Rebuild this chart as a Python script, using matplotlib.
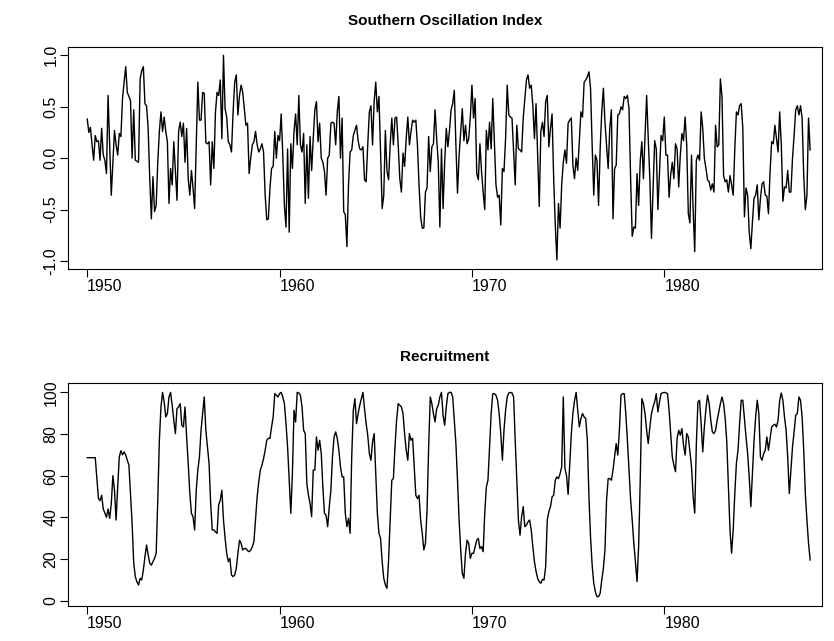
import numpy as np
import matplotlib
matplotlib.use("Agg")
import matplotlib.pyplot as plt

plt.rcParams['font.family'] = ['Liberation Sans', 'DejaVu Sans']

soi = [
 0.38, 0.25, 0.30, 0.13, -0.02, 0.22, 0.16, 0.17, -0.02, 0.29, 0.03, -0.02,
 -0.15, 0.61, 0.13, -0.36, -0.04, 0.27, 0.13, 0.03, 0.24, 0.21, 0.58, 0.74,
 0.89, 0.64, 0.60, 0.56, 0.00, 0.47, -0.02, -0.03, -0.04, 0.77, 0.85, 0.89,
 0.53, 0.51, 0.29, -0.20, -0.59, -0.18, -0.52, -0.46, -0.04, 0.26, 0.45, 0.26,
 0.40, 0.26, 0.16, -0.44, -0.10, -0.26, 0.16, -0.13, -0.41, 0.26, 0.35, 0.21,
 0.34, -0.04, 0.29, -0.20, -0.36, -0.12, -0.29, -0.49, 0.13, 0.74, 0.37, 0.37,
 0.64, 0.63, 0.15, 0.14, 0.16, -0.26, 0.16, -0.10, 0.45, 0.64, 0.61, 0.76,
 0.19, 1.00, 0.48, 0.40, 0.16, 0.13, 0.06, 0.45, 0.74, 0.81, 0.42, 0.61,
 0.71, 0.64, 0.48, 0.32, 0.34, -0.15, 0.00, 0.13, 0.16, 0.26, 0.13, 0.06,
 0.09, 0.14, 0.06, -0.36, -0.60, -0.59, -0.29, -0.10, -0.08, 0.26, 0.00, 0.22,
 0.17, 0.43, 0.03, -0.46, -0.67, 0.09, -0.72, 0.14, -0.10, 0.26, 0.43, 0.13,
 0.61, 0.13, 0.06, 0.24, -0.44, 0.13, -0.39, 0.21, -0.12, 0.19, 0.47, 0.55,
 0.16, 0.34, 0.00, -0.04, -0.13, -0.36, 0.00, 0.03, 0.34, 0.35, 0.34, 0.13,
 0.45, 0.60, 0.00, 0.39, -0.52, -0.55, -0.86, -0.26, 0.06, 0.08, 0.22, 0.27,
 0.32, 0.17, 0.09, 0.08, 0.11, -0.21, -0.23, 0.13, 0.45, 0.51, 0.13, 0.55,
 0.74, 0.45, 0.60, 0.06, -0.49, -0.36, 0.27, -0.13, -0.21, 0.13, 0.39, 0.13,
 0.39, 0.40, 0.13, -0.20, -0.33, 0.05, -0.08, 0.19, 0.40, 0.13, 0.26, 0.37,
 0.35, 0.37, 0.13, -0.26, -0.57, -0.68, -0.68, -0.33, -0.29, 0.21, -0.13, 0.11,
 0.14, 0.47, 0.19, -0.04, -0.67, 0.09, -0.49, -0.04, 0.29, 0.11, 0.27, 0.47,
 0.53, 0.66, 0.13, -0.34, 0.03, 0.26, 0.48, 0.17, 0.32, 0.14, 0.19, 0.40,
 0.71, 0.39, 0.58, -0.15, -0.21, 0.14, -0.13, -0.33, -0.50, 0.27, 0.08, 0.35,
 0.09, 0.58, 0.16, -0.26, -0.38, -0.36, -0.65, -0.10, -0.13, 0.19, 0.71, 0.42,
 0.40, 0.39, 0.06, -0.26, 0.32, 0.09, 0.08, 0.06, 0.39, 0.58, 0.76, 0.81,
 0.68, 0.71, 0.51, 0.19, 0.53, 0.03, -0.47, 0.26, 0.35, 0.21, 0.55, 0.61,
 0.11, 0.29, 0.43, -0.20, -0.65, -0.99, -0.44, -0.68, -0.26, -0.04, 0.08, -0.05,
 0.34, 0.37, 0.39, -0.07, -0.20, 0.00, -0.12, 0.16, 0.45, 0.40, 0.74, 0.76,
 0.79, 0.84, 0.68, 0.13, -0.36, 0.03, -0.02, -0.46, 0.09, 0.45, 0.68, 0.35,
 0.13, -0.10, 0.29, 0.47, -0.59, -0.10, -0.07, 0.42, 0.43, 0.50, 0.47, 0.60,
 0.58, 0.61, 0.48, -0.20, -0.76, -0.67, -0.68, -0.15, -0.46, -0.03, 0.16, -0.20,
 0.22, 0.61, 0.19, -0.20, -0.78, -0.29, 0.17, 0.09, -0.50, -0.13, 0.22, 0.17,
 0.40, 0.03, 0.03, -0.38, -0.16, -0.04, -0.20, 0.14, 0.09, -0.28, 0.03, 0.24,
 0.17, 0.40, 0.13, -0.54, -0.63, 0.03, -0.50, -0.91, -0.02, 0.03, -0.02, 0.45,
 0.29, 0.00, -0.10, -0.21, -0.23, -0.31, -0.25, -0.33, 0.32, 0.11, 0.13, 0.77,
 0.60, -0.17, -0.23, -0.21, -0.33, -0.17, -0.26, -0.36, 0.09, 0.45, 0.42, 0.51,
 0.53, 0.29, -0.57, -0.29, -0.36, -0.72, -0.88, -0.62, -0.39, -0.36, -0.26, -0.60,
 -0.39, -0.25, -0.23, -0.36, -0.37, -0.54, -0.13, 0.16, 0.14, 0.32, 0.19, 0.06,
 0.45, 0.13, -0.42, -0.28, -0.29, -0.12, -0.33, -0.33, 0.00, 0.22, 0.47, 0.51,
 0.42, 0.51, 0.39, -0.17, -0.50, -0.36, 0.39, 0.08,
]

rec = [
 68.63, 68.63, 68.63, 68.63, 68.63, 68.63, 59.0, 49.0, 48.0, 50.6, 44.0, 42.0,
 40.0, 44.0, 39.5, 46.5, 60.0, 53.0, 38.7, 54.6, 69.0, 72.0, 70.0, 71.4,
 70.0, 67.4, 65.0, 51.4, 37.0, 18.0, 11.5, 9.0, 7.5, 10.7, 9.9, 14.7,
 21.0, 26.7, 22.0, 18.0, 17.0, 18.7, 20.3, 22.7, 48.0, 77.0, 93.0, 100.0,
 95.4, 88.2, 89.8, 97.8, 100.0, 93.8, 86.6, 80.2, 92.2, 93.0, 94.6, 84.2,
 83.4, 93.0, 78.6, 65.9, 51.4, 41.9, 40.3, 33.9, 53.0, 62.7, 69.0, 81.8,
 89.8, 97.8, 81.8, 73.8, 65.9, 46.7, 33.9, 33.9, 33.0, 32.3, 46.0, 48.3,
 53.0, 38.7, 30.0, 22.7, 18.7, 20.3, 12.3, 11.5, 12.3, 15.5, 22.7, 29.0,
 27.5, 24.3, 25.0, 25.0, 24.0, 23.5, 24.3, 25.9, 28.3, 38.7, 49.8, 57.0,
 62.7, 65.0, 68.2, 72.2, 77.0, 77.9, 77.9, 83.4, 88.2, 99.4, 98.6, 97.8,
 99.4, 100.0, 97.8, 94.6, 85.0, 73.8, 57.8, 41.9, 61.0, 91.4, 85.8, 100.0,
 99.7, 98.6, 93.0, 81.8, 80.2, 56.2, 50.6, 46.7, 40.3, 62.7, 62.7, 78.6,
 72.2, 77.0, 70.6, 54.6, 41.9, 41.0, 35.5, 45.1, 53.0, 69.0, 78.6, 81.0,
 77.9, 72.2, 64.2, 59.4, 59.4, 41.9, 35.5, 39.5, 32.3, 69.0, 91.4, 97.0,
 85.0, 89.8, 93.8, 97.0, 100.0, 92.2, 85.0, 79.4, 70.6, 67.4, 76.2, 80.2,
 61.0, 41.9, 32.3, 29.9, 18.7, 10.7, 7.5, 5.9, 19.5, 38.7, 57.8, 58.6,
 73.8, 86.6, 94.6, 93.8, 93.0, 89.8, 80.2, 72.2, 67.4, 80.2, 77.0, 77.9,
 64.2, 50.6, 49.0, 50.6, 38.7, 32.3, 24.3, 27.5, 43.5, 73.8, 97.8, 94.6,
 89.8, 85.8, 92.2, 93.8, 97.8, 100.0, 89.0, 84.2, 93.0, 99.4, 100.0, 100.0,
 97.8, 86.6, 75.4, 57.8, 38.7, 24.3, 13.1, 10.7, 22.7, 29.0, 27.5, 20.3,
 22.7, 22.7, 25.9, 29.0, 29.9, 25.0, 25.9, 23.5, 41.9, 54.6, 57.8, 73.8,
 89.8, 99.4, 99.4, 98.6, 96.2, 89.8, 80.2, 67.4, 81.8, 91.4, 97.8, 99.7,
 100.0, 99.7, 97.8, 77.0, 57.8, 38.7, 31.4, 40.3, 45.1, 35.5, 36.3, 37.8,
 38.7, 33.9, 25.9, 18.7, 14.0, 10.7, 9.1, 8.3, 10.2, 9.9, 16.3, 38.7,
 42.7, 45.1, 49.8, 50.6, 57.8, 59.4, 58.6, 61.0, 64.2, 97.8, 63.5, 60.2,
 51.0, 65.0, 80.0, 90.0, 96.0, 100.0, 91.4, 83.4, 87.4, 89.8, 88.2, 87.4,
 77.0, 49.8, 30.7, 17.1, 8.3, 4.3, 1.9, 1.9, 3.5, 9.9, 15.5, 24.3,
 48.3, 58.6, 58.6, 57.8, 62.7, 69.0, 75.4, 69.9, 81.8, 98.6, 99.4, 99.4,
 89.8, 77.0, 62.7, 48.3, 38.7, 27.5, 18.7, 9.1, 25.9, 57.8, 97.0, 94.6,
 89.8, 81.8, 75.4, 83.4, 89.8, 93.0, 95.4, 99.4, 90.6, 95.4, 99.4, 99.8,
 100.0, 99.8, 99.4, 91.4, 80.2, 69.0, 65.0, 61.9, 77.9, 81.8, 79.4, 82.6,
 74.6, 69.9, 80.2, 78.6, 71.4, 64.2, 50.0, 42.0, 75.0, 95.4, 96.2, 85.0,
 71.4, 83.4, 92.2, 98.6, 94.6, 86.6, 81.0, 80.2, 81.8, 86.6, 90.6, 94.6,
 97.8, 94.6, 87.4, 76.2, 54.6, 33.9, 22.7, 33.9, 51.4, 65.9, 72.2, 85.0,
 96.2, 96.2, 87.4, 78.6, 70.6, 59.4, 45.1, 61.0, 77.0, 88.2, 96.2, 89.8,
 69.0, 67.4, 70.6, 72.2, 78.6, 72.2, 77.9, 83.4, 84.2, 84.7, 83.4, 86.6,
 96.2, 99.7, 96.2, 88.2, 81.8, 69.0, 51.4, 62.7, 73.8, 81.0, 89.0, 89.8,
 97.8, 96.2, 88.2, 72.2, 51.4, 38.7, 27.5, 19.5,
]

start_year = 1950
year_ticks = [1950, 1960, 1970, 1980]
soi_ticks = [-1.0, -0.5, 0.0, 0.5, 1.0]
soi_ticklabels = ["-1.0", "-0.5", "0.0", "0.5", "1.0"]
rec_ticks = [0, 20, 40, 60, 80, 100]
rec_ticklabels = ["0", "20", "40", "60", "80", "100"]
titles = ["Southern Oscillation Index", "Recruitment"]

t_soi = start_year + np.arange(len(soi)) / 12.0
t_rec = start_year + np.arange(len(rec)) / 12.0

W, H = 834, 641
fig = plt.figure(figsize=(W / 100, H / 100), dpi=100)

def frac(x0, y0, x1, y1):
    return [x0 / W, 1 - y1 / H, (x1 - x0) / W, (y1 - y0) / H]

ax1 = fig.add_axes(frac(68, 47, 822, 269))
ax2 = fig.add_axes(frac(68, 383, 822, 606))

panels = [
    (ax1, t_soi, soi, (-1.078, 1.081), soi_ticks, soi_ticklabels, titles[0]),
    (ax2, t_rec, rec, (-2.6, 104.5), rec_ticks, rec_ticklabels, titles[1]),
]

for ax, t, y, ylim, yt, ytl, title in panels:
    ax.plot(t, y, color="black", lw=1.0)
    ax.set_xlim(1949.0, 1988.2)
    ax.set_ylim(*ylim)
    ax.set_xticks(year_ticks)
    ax.set_xticklabels([str(v) for v in year_ticks], fontsize=11.5)
    for lab in ax.get_xticklabels():
        lab.set_horizontalalignment('left')
    ax.set_yticks(yt)
    ax.set_yticklabels(ytl, fontsize=11.5, rotation=90, va='center')
    ax.tick_params(direction='out', length=5.5, width=0.8, pad=1.5, colors='black')
    for s in ax.spines.values():
        s.set_linewidth(0.8)
        s.set_color('black')
    ax.set_title(title, fontsize=11, fontweight='bold', pad=16)

fig.savefig("out.png", dpi=100)
